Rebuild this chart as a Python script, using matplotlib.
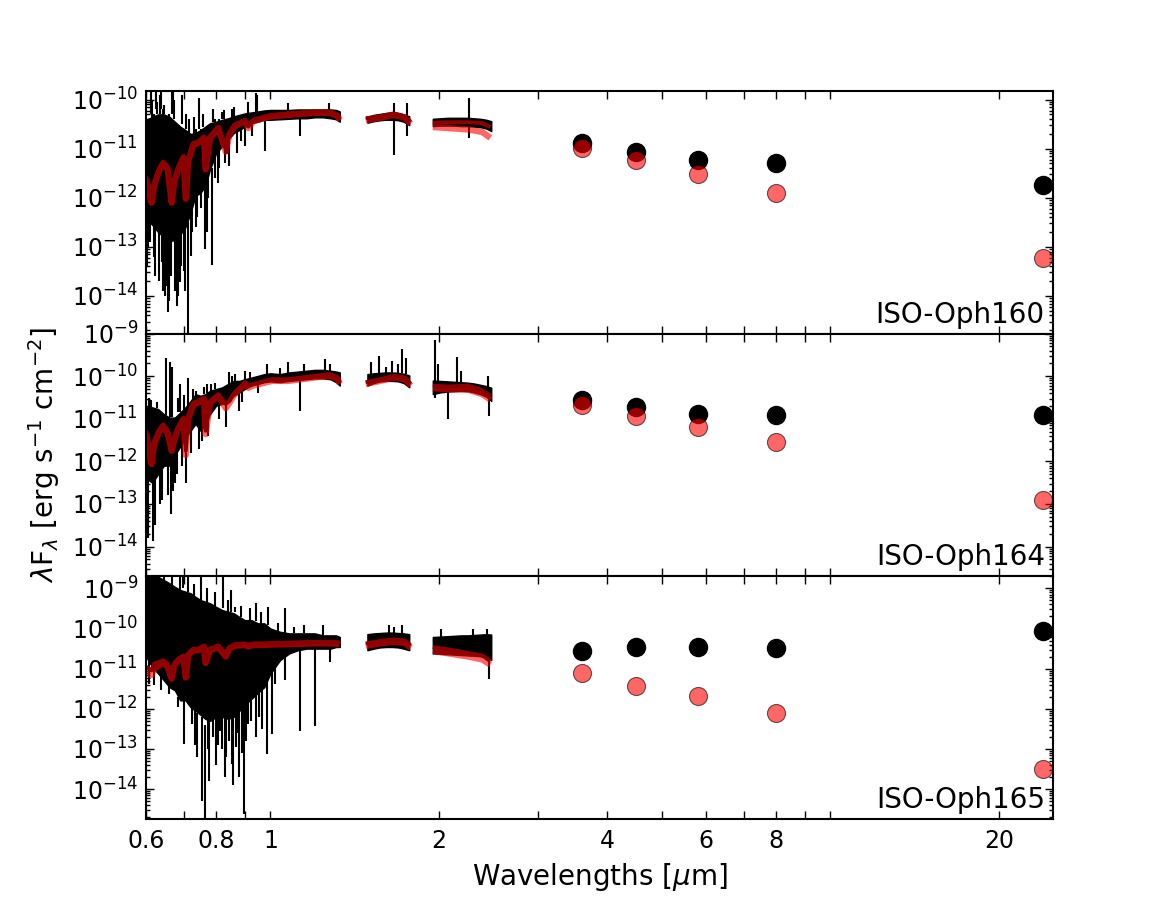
import numpy as np
import matplotlib
matplotlib.use('Agg')
import matplotlib.pyplot as plt
from matplotlib.ticker import LogLocator, NullFormatter, NullLocator

nan = np.nan

# wavelength nodes [um] of the observed spectra (optical/J, H, K pieces, split by nan)
band_wl = [0.600, 0.615, 0.630, 0.645, 0.660, 0.675, 0.690, 0.705, 0.720, 0.735,
           0.750, 0.765, 0.780, 0.800, 0.820, 0.840, 0.860, 0.880, 0.900, 0.925,
           0.950, 0.975, 1.000, 1.040, 1.080, 1.120, 1.160, 1.200, 1.240, 1.280,
           1.310, 1.330,
           nan, 1.49, 1.53, 1.57, 1.61, 1.65, 1.69, 1.73, 1.77,
           nan, 1.95, 2.01, 2.07, 2.13, 2.19, 2.25, 2.31, 2.37, 2.43, 2.48]

# wavelength nodes [um] of the photospheric model
model_wl = [0.600, 0.605, 0.613, 0.620, 0.632, 0.643, 0.655, 0.666, 0.673, 0.684,
            0.699, 0.706, 0.713, 0.728, 0.743, 0.761, 0.766, 0.780, 0.807, 0.832,
            0.845, 0.863, 0.901, 0.913, 0.932, 0.978, 1.006, 1.077, 1.200, 1.280,
            1.320, 1.330,
            nan, 1.48, 1.57, 1.66, 1.74, 1.78,
            nan, 1.95, 2.08, 2.26, 2.39, 2.47]

# Spitzer bands [um]
phot_wl = [3.6, 4.5, 5.8, 8.0, 24.0]

# ---------------- ISO-Oph160 (log10 lambda F_lambda) ----------------
oph160_hi = [-10.41, -10.35, -10.30, -10.30, -10.35, -10.45, -10.55, -10.62, -10.70, -10.68,
             -10.62, -10.55, -10.48, -10.45, -10.41, -10.38, -10.34, -10.31, -10.28, -10.26,
             -10.24, -10.22, -10.21, -10.21, -10.21, -10.20, -10.20, -10.20, -10.20, -10.20,
             -10.21, -10.24,
             nan, -10.35, -10.31, -10.29, -10.27, -10.26, -10.27, -10.30, -10.34,
             nan, -10.39, -10.38, -10.37, -10.37, -10.37, -10.37, -10.38, -10.39, -10.41, -10.44]
oph160_lo = [-12.45, -12.55, -12.70, -12.80, -12.90, -12.85, -12.75, -12.60, -12.30, -11.96,
             -11.90, -11.76, -11.42, -11.09, -10.95, -10.82, -10.68, -10.62, -10.55, -10.48,
             -10.45, -10.41, -10.41, -10.40, -10.39, -10.38, -10.38, -10.36, -10.36, -10.38,
             -10.40, -10.45,
             nan, -10.47, -10.44, -10.42, -10.41, -10.41, -10.42, -10.45, -10.52,
             nan, -10.54, -10.53, -10.53, -10.53, -10.54, -10.54, -10.55, -10.56, -10.59, -10.64]
oph160_model = [-11.56, -11.76, -12.03, -11.69, -11.42, -11.26, -11.36, -12.03, -11.63, -11.39,
                -11.15, -11.96, -11.22, -10.88, -10.85, -10.75, -11.36, -10.75, -10.55, -11.02,
                -10.68, -10.51, -10.41, -10.55, -10.41, -10.34, -10.31, -10.28, -10.24, -10.24,
                -10.31, -10.38,
                nan, -10.38, -10.34, -10.28, -10.34, -10.45,
                nan, -10.47, -10.46, -10.46, -10.48, -10.56]
oph160_model_raw = [-11.62, -11.80, -12.10, -11.74, -11.46, -11.30, -11.40, -12.10, -11.68, -11.42,
                    -11.18, -12.02, -11.26, -10.92, -10.88, -10.78, -11.42, -10.78, -10.58, -11.06,
                    -10.71, -10.54, -10.44, -10.58, -10.44, -10.37, -10.34, -10.31, -10.27, -10.27,
                    -10.34, -10.42,
                    nan, -10.42, -10.37, -10.31, -10.37, -10.49,
                    nan, -10.56, -10.58, -10.61, -10.66, -10.78]
# (wavelength, log flux from, log flux to) of single noisy pixels
oph160_spikes = [
    (0.603, -12.00, -13.40), (0.605, -10.40, -13.00), (0.609, -12.00, -12.90), (0.611, -10.30, -9.80),
    (0.614, -10.40, -10.00), (0.620, -10.30, -13.20), (0.623, -12.30, -13.60), (0.625, -10.20, -9.70),
    (0.628, -10.30, -10.05), (0.632, -12.00, -13.70), (0.634, -10.30, -9.90), (0.637, -10.20, -9.70),
    (0.640, -12.50, -13.30), (0.642, -10.20, -13.90), (0.646, -10.30, -10.10), (0.648, -12.00, -14.00),
    (0.652, -12.60, -13.80), (0.655, -12.50, -14.33), (0.660, -10.30, -14.10), (0.663, -12.70, -13.60),
    (0.666, -10.30, -9.70), (0.670, -10.30, -9.70), (0.673, -10.40, -10.00), (0.676, -12.00, -13.90),
    (0.680, -12.70, -14.20), (0.684, -12.80, -14.00), (0.689, -12.80, -13.72), (0.692, -12.60, -13.40),
    (0.696, -10.50, -9.90), (0.700, -10.60, -13.50), (0.704, -12.50, -13.90), (0.708, -10.60, -10.30),
    (0.713, -12.50, -14.80), (0.716, -10.70, -10.40), (0.720, -12.30, -13.18), (0.725, -11.90, -12.70),
    (0.730, -10.70, -10.35), (0.735, -10.60, -12.60), (0.740, -11.80, -12.40), (0.746, -10.60, -9.97),
    (0.752, -10.60, -12.20), (0.758, -10.55, -10.30), (0.764, -11.70, -13.04), (0.769, -11.70, -12.70),
    (0.775, -11.30, -12.00), (0.785, -11.40, -13.38), (0.790, -10.45, -10.20), (0.795, -10.40, -11.60),
    (0.805, -11.00, -11.70), (0.810, -10.40, -11.40), (0.818, -10.40, -10.25), (0.827, -10.40, -10.21),
    (0.829, -10.90, -11.29), (0.835, -10.80, -11.10), (0.845, -10.80, -11.36), (0.855, -10.40, -10.20),
    (0.862, -10.35, -10.14), (0.870, -10.60, -11.09), (0.885, -10.60, -10.85), (0.901, -10.50, -10.95),
    (0.913, -10.30, -10.04), (0.928, -10.45, -10.75), (0.941, -10.25, -9.87), (0.948, -10.25, -9.90),
    (0.978, -10.40, -11.05), (1.077, -10.22, -10.07), (1.127, -10.38, -10.75), (1.274, -10.22, -10.07),
    (1.661, -10.07, -11.12), (1.751, -10.07, -10.75), (2.264, -9.97, -10.78),
]
oph160_obs = [1.32e-11, 8.7e-12, 5.9e-12, 5.0e-12, 1.8e-12]
oph160_phot = [1.02e-11, 5.9e-12, 3.0e-12, 1.28e-12, 5.9e-14]

# ---------------- ISO-Oph164 ----------------
oph164_hi = [-10.73, -10.73, -10.77, -10.89, -10.97, -10.97, -10.85, -10.73, -10.58, -10.42,
             -10.46, -10.42, -10.34, -10.30, -10.26, -10.18, -10.11, -10.11, -10.07, -10.03,
             -9.99, -9.95, -9.93, -9.95, -9.91, -9.89, -9.87, -9.85, -9.85, -9.87,
             -9.89, -9.91,
             nan, -9.95, -9.93, -9.92, -9.91, -9.91, -9.92, -9.94, -9.98,
             nan, -10.10, -10.11, -10.12, -10.13, -10.14, -10.15, -10.17, -10.20, -10.23, -10.27]
oph164_lo = [-12.40, -12.50, -12.30, -12.10, -12.10, -11.85, -11.65, -11.45, -11.28, -11.12,
             -11.28, -11.12, -10.89, -10.69, -10.65, -10.58, -10.46, -10.38, -10.30, -10.22,
             -10.18, -10.14, -10.12, -10.14, -10.11, -10.09, -10.07, -10.05, -10.05, -10.07,
             -10.14, -10.22,
             nan, -10.22, -10.16, -10.12, -10.11, -10.11, -10.12, -10.16, -10.26,
             nan, -10.42, -10.38, -10.36, -10.35, -10.34, -10.35, -10.38, -10.42, -10.48, -10.58]
oph164_model = [-11.28, -11.60, -11.99, -11.52, -11.28, -11.13, -11.28, -11.67, -11.44, -11.20,
                -10.97, -11.75, -10.97, -10.62, -10.58, -10.50, -11.28, -10.58, -10.42, -10.65,
                -10.58, -10.38, -10.14, -10.22, -10.18, -10.11, -10.07, -10.07, -9.99, -9.95,
                -10.03, -10.14,
                nan, -10.14, -10.07, -9.99, -10.03, -10.18,
                nan, -10.22, -10.24, -10.22, -10.33, -10.46]
oph164_model_raw = [-11.34, -11.66, -12.06, -11.58, -11.32, -11.17, -11.33, -11.75, -11.50, -11.24,
                    -11.01, -11.85, -11.01, -10.66, -10.62, -10.54, -11.36, -10.62, -10.46, -10.75,
                    -10.62, -10.42, -10.18, -10.27, -10.22, -10.15, -10.11, -10.11, -10.03, -9.99,
                    -10.07, -10.18,
                    nan, -10.18, -10.11, -10.03, -10.07, -10.22,
                    nan, -10.28, -10.31, -10.32, -10.42, -10.55]
oph164_spikes = [
    (0.602, -12.40, -13.30), (0.604, -12.00, -13.79), (0.607, -10.80, -10.50), (0.611, -10.75, -10.55),
    (0.617, -12.00, -13.87), (0.622, -12.40, -13.50), (0.628, -10.75, -10.60), (0.635, -12.00, -13.01),
    (0.641, -12.20, -12.90), (0.650, -10.90, -9.56), (0.655, -12.00, -12.80), (0.661, -10.95, -9.67),
    (0.663, -12.00, -13.24), (0.666, -10.95, -9.79), (0.670, -11.90, -12.69), (0.675, -11.80, -12.50),
    (0.681, -11.80, -12.30), (0.685, -10.85, -10.50), (0.690, -10.85, -10.18), (0.695, -11.60, -12.10),
    (0.700, -10.80, -10.45), (0.708, -11.50, -12.50), (0.713, -10.70, -10.03), (0.720, -11.20, -11.80),
    (0.727, -10.55, -10.30), (0.737, -10.45, -10.34), (0.745, -11.10, -11.70), (0.754, -11.20, -11.52),
    (0.760, -10.42, -10.25), (0.769, -10.40, -10.18), (0.775, -10.90, -11.40), (0.783, -10.35, -10.18),
    (0.795, -10.30, -10.15), (0.810, -10.70, -11.00), (0.832, -10.60, -11.20), (0.845, -10.20, -9.91),
    (0.855, -10.15, -10.00), (0.866, -10.15, -9.95), (0.877, -10.40, -10.81), (0.890, -10.35, -10.60),
    (0.901, -10.10, -9.87), (0.920, -10.05, -9.90), (0.950, -10.20, -10.40), (0.985, -10.00, -9.71),
    (1.040, -9.95, -9.80), (1.077, -9.95, -9.67), (1.127, -10.10, -10.81), (1.150, -9.90, -9.71),
    (1.250, -9.88, -9.60), (1.280, -9.88, -9.71),
    (1.510, -9.95, -9.67), (1.560, -9.93, -9.52), (1.610, -9.92, -9.79), (1.650, -9.92, -9.64),
    (1.690, -9.92, -9.71), (1.720, -9.93, -9.36), (1.750, -9.95, -9.56), (1.965, -10.50, -9.16),
    (1.990, -10.10, -9.71), (2.080, -10.35, -11.01), (2.150, -10.13, -9.55), (2.190, -10.14, -9.87),
    (2.450, -10.25, -10.00), (2.460, -10.50, -10.93),
]
oph164_obs = [2.8e-11, 1.9e-11, 1.3e-11, 1.23e-11, 1.23e-11]
oph164_phot = [2.1e-11, 1.18e-11, 6.5e-12, 2.9e-12, 1.23e-13]

# ---------------- ISO-Oph165 ----------------
oph165_hi = [-8.60, -8.62, -8.71, -8.79, -8.87, -8.96, -9.04, -9.08, -9.12, -9.21,
             -9.29, -9.33, -9.37, -9.46, -9.54, -9.58, -9.62, -9.71, -9.79, -9.79,
             -9.87, -9.87, -10.00, -10.08, -10.12, -10.12, -10.12, -10.12, -10.17, -10.17,
             -10.17, -10.21,
             nan, -10.14, -10.12, -10.11, -10.10, -10.10, -10.11, -10.12, -10.14,
             nan, -10.21, -10.20, -10.19, -10.18, -10.17, -10.17, -10.16, -10.15, -10.14, -10.15]
oph165_lo = [-10.71, -10.96, -11.12, -11.29, -11.46, -11.54, -11.79, -11.79, -11.96, -12.05,
             -12.15, -12.25, -12.30, -12.20, -12.20, -12.25, -12.20, -12.05, -11.90, -11.75,
             -11.60, -11.46, -11.12, -10.79, -10.62, -10.54, -10.50, -10.50, -10.50, -10.50,
             -10.46, -10.46,
             nan, -10.54, -10.50, -10.47, -10.46, -10.46, -10.47, -10.50, -10.54,
             nan, -10.62, -10.63, -10.64, -10.65, -10.66, -10.67, -10.68, -10.69, -10.71, -10.78]
oph165_model = [-10.96, -10.98, -11.04, -10.87, -10.83, -10.79, -10.87, -11.12, -10.87, -10.75,
                -10.67, -11.12, -10.62, -10.50, -10.50, -10.42, -10.79, -10.50, -10.42, -10.62,
                -10.46, -10.39, -10.37, -10.40, -10.37, -10.37, -10.36, -10.35, -10.33, -10.33,
                -10.34, -10.36,
                nan, -10.37, -10.31, -10.27, -10.30, -10.42,
                nan, -10.46, -10.52, -10.61, -10.67, -10.81]
oph165_model_raw = [-11.10, -11.12, -11.16, -11.00, -10.92, -10.86, -10.95, -11.25, -10.93, -10.80,
                    -10.72, -11.22, -10.66, -10.54, -10.54, -10.46, -10.86, -10.54, -10.46, -10.70,
                    -10.50, -10.43, -10.41, -10.45, -10.41, -10.41, -10.40, -10.39, -10.37, -10.37,
                    -10.38, -10.40,
                    nan, -10.43, -10.37, -10.33, -10.36, -10.48,
                    nan, -10.56, -10.62, -10.70, -10.77, -10.90]
oph165_spikes = [
    (0.607, -10.80, -11.37), (0.620, -10.90, -11.40), (0.630, -8.80, -8.60), (0.637, -11.10, -11.54),
    (0.645, -8.90, -8.60), (0.658, -11.40, -11.62), (0.666, -9.00, -8.60), (0.683, -11.70, -11.96),
    (0.690, -9.10, -8.60), (0.699, -9.00, -8.60), (0.701, -11.80, -12.87), (0.713, -9.10, -8.60),
    (0.724, -11.90, -12.37), (0.730, -9.20, -8.90), (0.732, -12.00, -12.90), (0.740, -12.10, -13.20),
    (0.752, -9.30, -8.71), (0.756, -12.20, -14.29), (0.764, -12.40, -14.80), (0.770, -9.35, -9.00),
    (0.772, -12.20, -13.00), (0.777, -12.20, -13.80), (0.789, -12.20, -12.71), (0.795, -9.45, -9.10),
    (0.799, -12.20, -13.40), (0.806, -12.10, -12.90), (0.813, -12.10, -12.54), (0.818, -12.10, -13.00),
    (0.823, -9.50, -8.60), (0.828, -12.10, -13.70), (0.834, -12.10, -13.21), (0.840, -9.60, -9.30),
    (0.843, -12.10, -12.80), (0.850, -9.60, -9.04), (0.852, -12.10, -13.37), (0.858, -12.10, -13.90),
    (0.863, -9.60, -9.46), (0.869, -12.10, -12.96), (0.875, -12.00, -12.60), (0.880, -12.00, -13.71),
    (0.885, -9.70, -9.45), (0.888, -11.90, -13.10), (0.896, -11.90, -14.62), (0.905, -11.80, -12.80),
    (0.913, -11.80, -12.37), (0.920, -9.80, -9.50), (0.925, -11.70, -12.30), (0.941, -9.80, -9.37),
    (0.943, -11.50, -12.71), (0.955, -11.50, -12.20), (0.960, -9.90, -9.60), (0.965, -11.40, -12.50),
    (0.985, -11.30, -13.12), (0.990, -9.90, -9.46), (1.006, -11.00, -12.62), (1.020, -10.90, -11.37),
    (1.030, -10.05, -9.85), (1.060, -10.10, -9.50), (1.062, -10.70, -11.29), (1.100, -10.12, -9.95),
    (1.127, -10.50, -12.54), (1.150, -10.12, -9.92), (1.200, -10.50, -12.42), (1.240, -10.15, -9.92),
    (1.280, -10.50, -10.83),
    (1.630, -10.10, -9.92), (1.660, -10.10, -9.95), (1.720, -10.10, -9.92),
    (2.020, -10.20, -10.00), (2.300, -10.16, -10.00), (2.440, -10.14, -10.00), (2.460, -10.70, -11.25),
]
oph165_obs = [2.8e-11, 3.4e-11, 3.4e-11, 3.2e-11, 8.9e-11]
oph165_phot = [7.6e-12, 3.8e-12, 2.1e-12, 8.0e-13, 3.2e-14]

xtick_pos = [0.6, 0.7, 0.8, 0.9, 1, 2, 3, 4, 5, 6, 7, 8, 9, 10, 20]
xtick_lab = ['0.6', '', '0.8', '', '1', '2', '', '4', '', '6', '', '8', '', '', '20']


def runs(x):
    # index runs between the nan separators
    idx = np.flatnonzero(np.isfinite(x))
    return np.split(idx, np.flatnonzero(np.diff(idx) > 1) + 1)


plt.rcParams.update({
    'font.family': 'DejaVu Sans',
    'font.size': 17,
    'axes.linewidth': 1.5,
    'axes.unicode_minus': False,
    'xtick.direction': 'in', 'ytick.direction': 'in',
    'xtick.top': True, 'ytick.right': True,
    'xtick.major.size': 6, 'ytick.major.size': 6, 'ytick.minor.size': 3,
    'xtick.major.width': 1, 'ytick.major.width': 1, 'ytick.minor.width': 1,
    'xtick.major.pad': 7, 'ytick.major.pad': 6,
})

fig, axes = plt.subplots(3, 1, sharex=True, figsize=(11.7, 9.1), dpi=100)
fig.subplots_adjust(left=0.125, right=0.9, bottom=0.1, top=0.9, hspace=0)

panels = [
    ('ISO-Oph160', oph160_hi, oph160_lo, oph160_model, oph160_model_raw, oph160_spikes,
     oph160_obs, oph160_phot, (1.7e-15, 1.5e-10)),
    ('ISO-Oph164', oph164_hi, oph164_lo, oph164_model, oph164_model_raw, oph164_spikes,
     oph164_obs, oph164_phot, (2.0e-15, 1.0e-9)),
    ('ISO-Oph165', oph165_hi, oph165_lo, oph165_model, oph165_model_raw, oph165_spikes,
     oph165_obs, oph165_phot, (1.8e-15, 2.0e-9)),
]

bw = np.array(band_wl)
mw = np.array(model_wl)

for ax, (name, hi, lo, mod, raw, spikes, obs, phot, ylim) in zip(axes, panels):
    ax.set_xscale('log')
    ax.set_yscale('log')

    hi = 10 ** np.array(hi)
    lo = 10 ** np.array(lo)
    for r in runs(bw):
        ax.fill_between(bw[r], lo[r], hi[r], color='k', lw=1)
    sp = np.array(spikes)
    ax.vlines(sp[:, 0], 10 ** sp[:, 1], 10 ** sp[:, 2], color='k', lw=1.5)

    # model spectrum: full resolution (light) and smoothed (dark)
    ax.plot(mw, 10 ** np.array(raw), color='r', alpha=0.6, lw=4.5, solid_capstyle='butt')
    ax.plot(mw, 10 ** np.array(mod), color='#8b0000', lw=2.8, solid_capstyle='butt')

    # Spitzer photometry and photospheric prediction
    ax.plot(phot_wl, obs, 'o', color='k', ms=13)
    ax.plot(phot_wl, phot, 'o', color='r', alpha=0.6, mec='k', mew=0.8, ms=13)

    ax.text(0.991, 0.045, name, transform=ax.transAxes, ha='right', va='baseline', fontsize=20)

    ax.set_ylim(*ylim)
    ax.yaxis.set_major_locator(LogLocator(base=10, numticks=20))
    ax.yaxis.set_minor_locator(LogLocator(base=10, subs=np.arange(2, 10), numticks=20))
    ax.yaxis.set_minor_formatter(NullFormatter())

axes[-1].set_xlim(0.6, 25)
axes[-1].set_xticks(xtick_pos, labels=xtick_lab)
axes[-1].xaxis.set_minor_locator(NullLocator())

axes[1].set_ylabel(r'$\lambda$F$_\lambda$ [erg s$^{-1}$ cm$^{-2}$]', fontsize=20)
axes[1].yaxis.set_label_coords(-0.093, 0.5)
axes[-1].set_xlabel(r'Wavelengths [$\mu$m]', fontsize=20, labelpad=6)

fig.savefig('out.png', dpi=100, facecolor='white')
